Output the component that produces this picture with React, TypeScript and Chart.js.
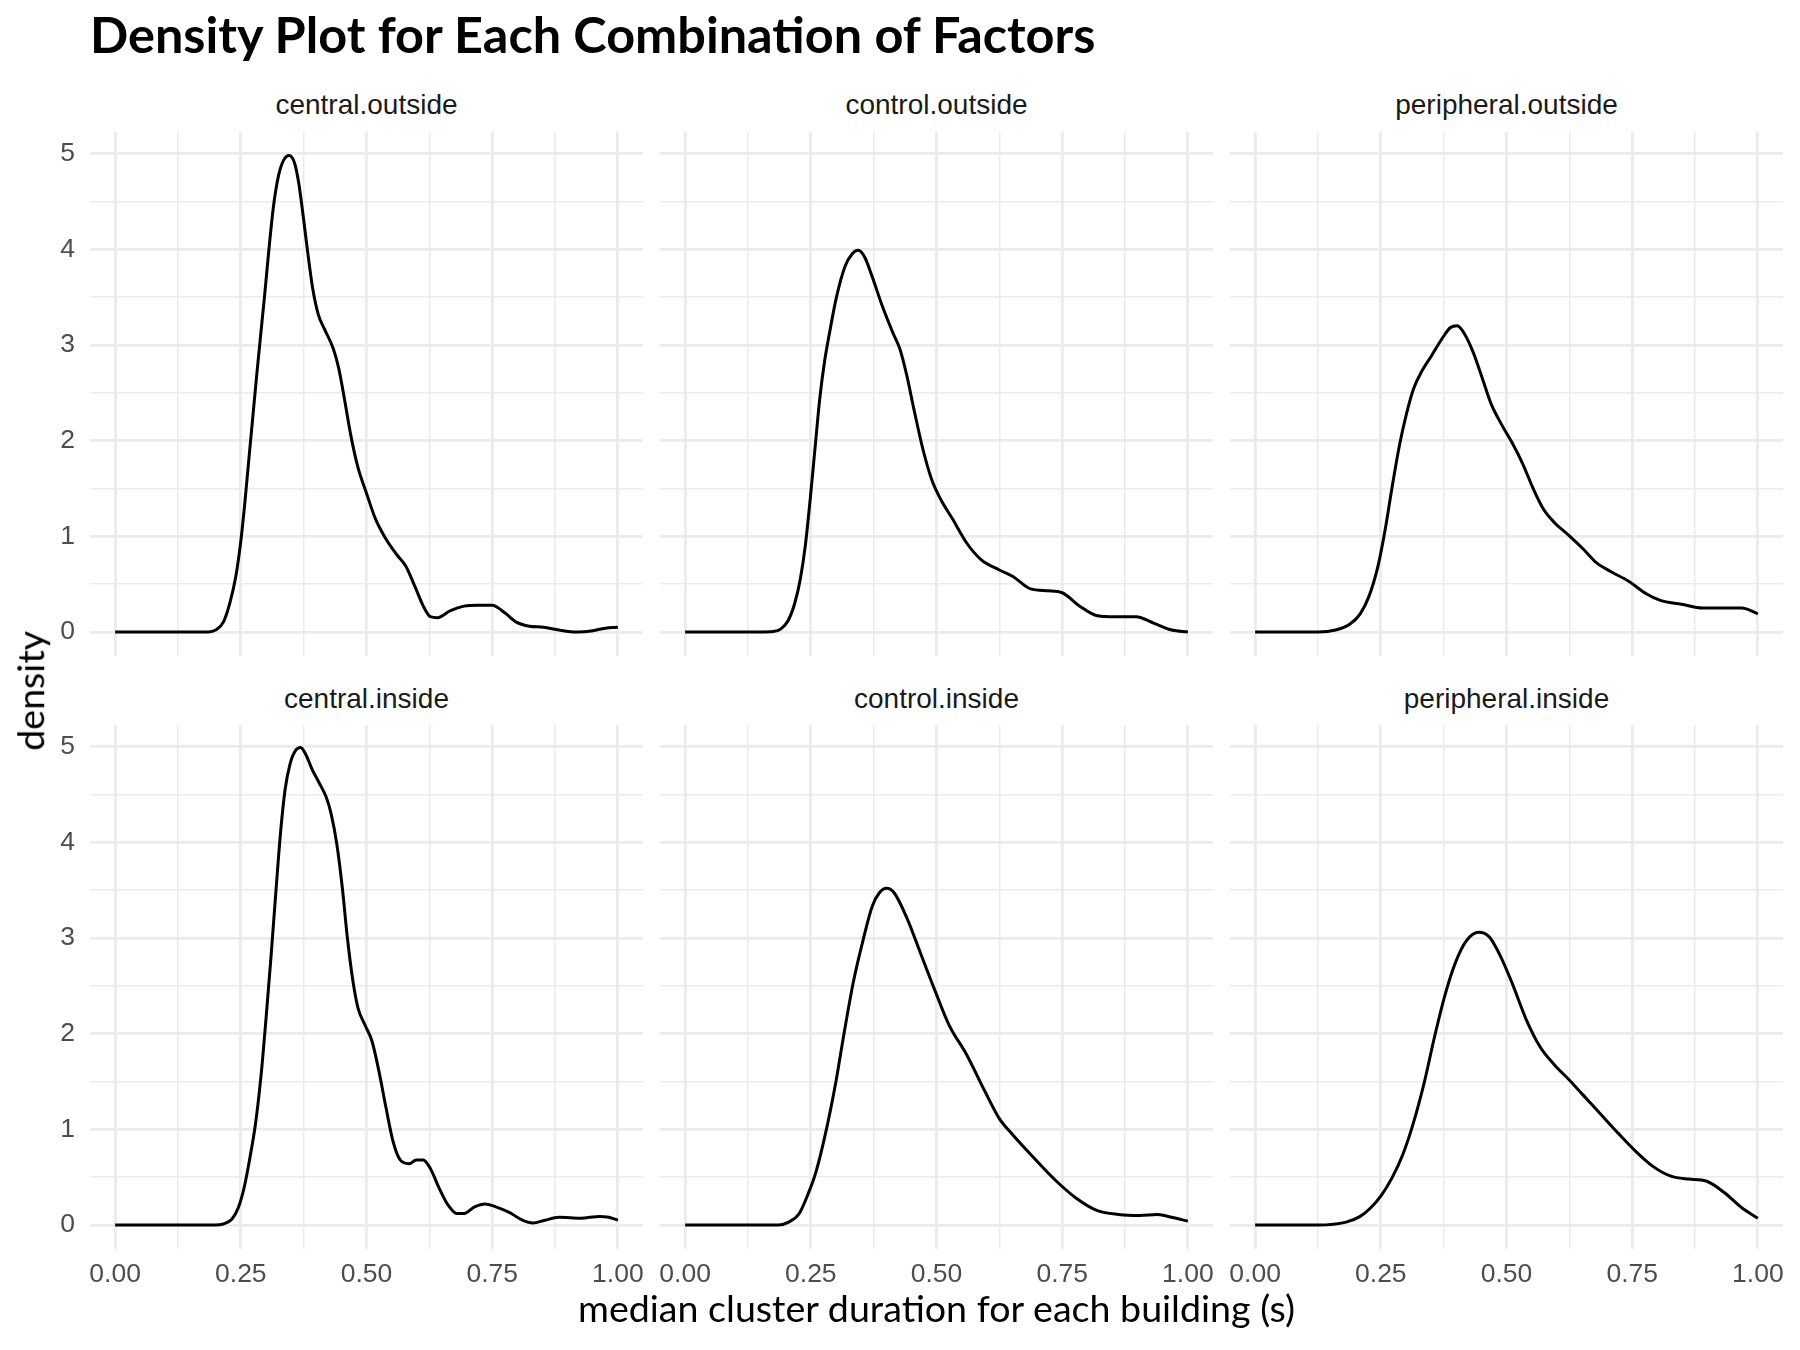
import React, { useEffect, useRef } from "react";
import { Chart, registerables } from "chart.js";

Chart.register(...registerables);

// ---------------- data ----------------
const panelNames = [
  "central.outside",
  "control.outside",
  "peripheral.outside",
  "central.inside",
  "control.inside",
  "peripheral.inside",
];

const xTickValues = [0, 0.125, 0.25, 0.375, 0.5, 0.625, 0.75, 0.875, 1];
const xTickLabels = ["0.00", "", "0.25", "", "0.50", "", "0.75", "", "1.00"];
const yTickValues = [0, 0.5, 1, 1.5, 2, 2.5, 3, 3.5, 4, 4.5, 5];
const yTickLabels = ["0", "", "1", "", "2", "", "3", "", "4", "", "5"];

const centralOutsideX = [0, 0.1, 0.185, 0.2, 0.215, 0.228, 0.24, 0.25, 0.258, 0.265, 0.273, 0.281, 0.289, 0.297, 0.305, 0.315, 0.325, 0.335, 0.346, 0.357, 0.365, 0.374, 0.383, 0.393, 0.404, 0.416, 0.434, 0.445, 0.455, 0.469, 0.483, 0.5, 0.518, 0.539, 0.56, 0.578, 0.596, 0.613, 0.627, 0.641, 0.666, 0.694, 0.722, 0.75, 0.775, 0.799, 0.824, 0.852, 0.883, 0.919, 0.947, 0.975, 1.0];
const centralOutsideY = [0, 0, 0, 0.02, 0.1, 0.3, 0.58, 0.95, 1.35, 1.75, 2.2, 2.65, 3.08, 3.5, 3.95, 4.45, 4.77, 4.93, 4.98, 4.9, 4.7, 4.35, 3.97, 3.59, 3.32, 3.17, 2.96, 2.75, 2.47, 2.05, 1.72, 1.45, 1.18, 0.97, 0.81, 0.69, 0.48, 0.27, 0.16, 0.15, 0.22, 0.27, 0.28, 0.28, 0.2, 0.1, 0.06, 0.05, 0.02, 0.0, 0.01, 0.04, 0.05];

const controlOutsideX = [0, 0.15, 0.175, 0.19, 0.205, 0.218, 0.229, 0.239, 0.249, 0.258, 0.268, 0.278, 0.287, 0.301, 0.318, 0.332, 0.344, 0.357, 0.371, 0.392, 0.413, 0.427, 0.441, 0.455, 0.473, 0.49, 0.508, 0.532, 0.56, 0.588, 0.624, 0.652, 0.687, 0.722, 0.75, 0.785, 0.82, 0.855, 0.897, 0.933, 0.968, 1.0];
const controlOutsideY = [0, 0, 0.005, 0.03, 0.12, 0.3, 0.55, 0.9, 1.4, 1.9, 2.45, 2.85, 3.12, 3.5, 3.82, 3.95, 3.99, 3.92, 3.73, 3.41, 3.13, 2.96, 2.68, 2.33, 1.91, 1.6, 1.39, 1.18, 0.93, 0.76, 0.65, 0.58, 0.45, 0.43, 0.41, 0.27, 0.17, 0.16, 0.16, 0.09, 0.02, 0.0];

const peripheralOutsideX = [0, 0.125, 0.16, 0.188, 0.209, 0.227, 0.244, 0.258, 0.272, 0.287, 0.301, 0.315, 0.332, 0.35, 0.371, 0.388, 0.402, 0.416, 0.434, 0.452, 0.469, 0.49, 0.511, 0.532, 0.553, 0.574, 0.596, 0.624, 0.652, 0.68, 0.708, 0.743, 0.778, 0.806, 0.848, 0.89, 0.933, 0.968, 1.0];
const peripheralOutsideY = [0, 0, 0.02, 0.08, 0.19, 0.38, 0.68, 1.05, 1.5, 1.95, 2.28, 2.54, 2.73, 2.88, 3.06, 3.18, 3.2, 3.12, 2.92, 2.65, 2.39, 2.17, 1.98, 1.76, 1.5, 1.28, 1.14, 1.01, 0.87, 0.72, 0.63, 0.53, 0.4, 0.33, 0.29, 0.25, 0.25, 0.25, 0.19];

const centralInsideX = [0, 0.15, 0.2, 0.215, 0.232, 0.245, 0.257, 0.268, 0.279, 0.29, 0.3, 0.31, 0.32, 0.329, 0.338, 0.348, 0.359, 0.369, 0.379, 0.392, 0.406, 0.42, 0.43, 0.441, 0.452, 0.462, 0.473, 0.483, 0.497, 0.511, 0.525, 0.539, 0.553, 0.567, 0.585, 0.599, 0.613, 0.627, 0.645, 0.662, 0.68, 0.694, 0.715, 0.736, 0.757, 0.785, 0.81, 0.831, 0.855, 0.883, 0.926, 0.964, 0.982, 1.0];
const centralInsideY = [0, 0, 0, 0.01, 0.06, 0.18, 0.4, 0.7, 1.05, 1.55, 2.15, 2.8, 3.5, 4.1, 4.55, 4.82, 4.96, 4.99, 4.92, 4.76, 4.62, 4.47, 4.29, 3.98, 3.52, 3.0, 2.55, 2.27, 2.09, 1.92, 1.6, 1.22, 0.87, 0.68, 0.64, 0.68, 0.68, 0.59, 0.38, 0.21, 0.12, 0.12, 0.19, 0.22, 0.19, 0.13, 0.05, 0.02, 0.05, 0.08, 0.07, 0.09, 0.08, 0.05];

const controlInsideX = [0, 0.15, 0.185, 0.206, 0.227, 0.245, 0.26, 0.281, 0.3, 0.316, 0.335, 0.355, 0.372, 0.386, 0.401, 0.416, 0.441, 0.469, 0.497, 0.525, 0.56, 0.596, 0.624, 0.652, 0.694, 0.736, 0.778, 0.82, 0.862, 0.904, 0.94, 0.968, 1.0];
const controlInsideY = [0, 0, 0.0, 0.03, 0.12, 0.33, 0.55, 1.0, 1.5, 2.0, 2.55, 3.0, 3.33, 3.47, 3.52, 3.47, 3.21, 2.83, 2.45, 2.09, 1.78, 1.4, 1.12, 0.94, 0.7, 0.47, 0.28, 0.15, 0.11, 0.1, 0.11, 0.08, 0.04];

const peripheralInsideX = [0, 0.125, 0.181, 0.209, 0.23, 0.251, 0.272, 0.294, 0.315, 0.336, 0.357, 0.378, 0.399, 0.42, 0.445, 0.466, 0.487, 0.511, 0.539, 0.567, 0.596, 0.624, 0.652, 0.687, 0.722, 0.757, 0.792, 0.827, 0.862, 0.897, 0.933, 0.968, 1.0];
const peripheralInsideY = [0, 0, 0.03, 0.09, 0.18, 0.31, 0.49, 0.74, 1.07, 1.48, 1.97, 2.41, 2.75, 2.97, 3.06, 3.01, 2.82, 2.53, 2.15, 1.86, 1.67, 1.52, 1.36, 1.16, 0.96, 0.77, 0.61, 0.51, 0.48, 0.46, 0.34, 0.18, 0.07];

const panelXs = [centralOutsideX, controlOutsideX, peripheralOutsideX, centralInsideX, controlInsideX, peripheralInsideX];
const panelYs = [centralOutsideY, controlOutsideY, peripheralOutsideY, centralInsideY, controlInsideY, peripheralInsideY];

const titleText = "Density Plot for Each Combination of Factors";
const xTitleText = "median cluster duration for each building (s)";
const yTitleText = "density";

// ---------------- layout ----------------
const PANEL_LEFT = [90, 660, 1230];
const PANEL_TOP = [132, 725];
const PANEL_W = 553;
const PANEL_H = 524;
const PAD = 40;
const Y_AXIS_W = 70;
const X_AXIS_H = 60;
const X_MIN = -0.05;
const X_MAX = 1.05;
const Y_MIN = -0.251;
const Y_MAX = 5.226;

const GRID = "#EBEBEB";
const TICK_FONT = "'Liberation Sans', Arial, sans-serif";
const LATO = "Lato, 'Noto Sans', sans-serif";
const TITLE_SIZE = 50.4;
const AXIS_TITLE_SIZE = 37.6;
const STRIP_SIZE = 28;

function Panel({ idx }: { idx: number }) {
  const ref = useRef<HTMLCanvasElement | null>(null);
  const col = idx % 3;
  const row = Math.floor(idx / 3);
  const yW = col === 0 ? Y_AXIS_W : 0;
  const xH = row === 1 ? X_AXIS_H : 0;
  const cw = PAD + yW + PANEL_W + PAD;
  const ch = PAD + PANEL_H + xH + PAD;
  const left = PANEL_LEFT[col] - PAD - yW;
  const top = PANEL_TOP[row] - PAD;

  useEffect(() => {
    const canvas = ref.current;
    if (!canvas) return;
    const xs = panelXs[idx];
    const ys = panelYs[idx];
    const chart = new Chart(canvas, {
      type: "line",
      data: {
        datasets: [
          {
            data: xs.map((x, i) => ({ x, y: ys[i] })),
            borderColor: "#000000",
            borderWidth: 3,
            pointRadius: 0,
            fill: false,
            cubicInterpolationMode: "monotone",
          },
        ],
      },
      options: {
        animation: false,
        responsive: false,
        events: [],
        layout: { padding: { left: PAD, right: PAD, top: PAD, bottom: PAD }, autoPadding: false },
        plugins: {
          legend: { display: false },
          tooltip: { enabled: false },
          title: { display: false },
        },
        scales: {
          x: {
            type: "linear",
            min: X_MIN,
            max: X_MAX,
            afterBuildTicks: (s: any) => {
              s.ticks = xTickValues.map((v) => ({ value: v }));
            },
            afterFit: (s: any) => {
              s.height = xH;
            },
            border: { display: false },
            grid: {
              drawTicks: false,
              color: GRID,
              lineWidth: (c: any) => (xTickLabels[xTickValues.indexOf(c.tick?.value)] ? 2.8 : 1.5),
            },
            ticks: {
              display: row === 1,
              autoSkip: false,
              maxRotation: 0,
              minRotation: 0,
              padding: 10,
              color: "#4D4D4D",
              font: { family: TICK_FONT, size: 26.5 },
              callback: (v: any) => {
                const i = xTickValues.indexOf(Number(v));
                return i >= 0 ? xTickLabels[i] : "";
              },
            },
          },
          y: {
            type: "linear",
            min: Y_MIN,
            max: Y_MAX,
            afterBuildTicks: (s: any) => {
              s.ticks = yTickValues.map((v) => ({ value: v }));
            },
            afterFit: (s: any) => {
              s.width = yW;
            },
            border: { display: false },
            grid: {
              drawTicks: false,
              color: GRID,
              lineWidth: (c: any) => (yTickLabels[yTickValues.indexOf(c.tick?.value)] ? 2.8 : 1.5),
            },
            ticks: {
              display: col === 0,
              autoSkip: false,
              padding: 15,
              color: "#4D4D4D",
              font: { family: TICK_FONT, size: 26.5 },
              callback: (v: any) => {
                const i = yTickValues.indexOf(Number(v));
                return i >= 0 ? yTickLabels[i] : "";
              },
            },
          },
        },
      } as any,
    });
    return () => chart.destroy();
  }, [idx]);

  return (
    <canvas
      ref={ref}
      width={cw}
      height={ch}
      style={{ position: "absolute", left, top, width: cw, height: ch }}
    />
  );
}

export default function App() {
  return (
    <div
      style={{
        position: "absolute",
        left: 0,
        top: 0,
        width: 1800,
        height: 1350,
        background: "#FFFFFF",
        overflow: "hidden",
      }}
    >
      <div
        style={{
          position: "absolute",
          left: 90,
          top: 54 - 0.887 * TITLE_SIZE,
          fontFamily: LATO,
          fontWeight: 700,
          fontSize: TITLE_SIZE,
          lineHeight: TITLE_SIZE + "px",
          color: "#000",
          whiteSpace: "nowrap",
        }}
      >
        {titleText}
      </div>
      {panelNames.map((name, i) => {
        const col = i % 3;
        const row = Math.floor(i / 3);
        return (
          <div
            key={"strip" + i}
            style={{
              position: "absolute",
              left: PANEL_LEFT[col],
              width: PANEL_W,
              top: (row === 0 ? 115 : 708.5) - 0.8465 * STRIP_SIZE,
              textAlign: "center",
              fontFamily: TICK_FONT,
              fontSize: STRIP_SIZE,
              lineHeight: STRIP_SIZE + "px",
              color: "#1A1A1A",
              whiteSpace: "nowrap",
            }}
          >
            {name}
          </div>
        );
      })}
      {panelNames.map((_, i) => (
        <Panel key={"panel" + i} idx={i} />
      ))}
      <div
        style={{
          position: "absolute",
          left: PANEL_LEFT[0],
          width: PANEL_LEFT[2] + PANEL_W - PANEL_LEFT[0],
          top: 1322 - 0.887 * AXIS_TITLE_SIZE,
          textAlign: "center",
          fontFamily: LATO,
          fontSize: AXIS_TITLE_SIZE,
          lineHeight: AXIS_TITLE_SIZE + "px",
          color: "#000",
          whiteSpace: "nowrap",
        }}
      >
        {xTitleText}
      </div>
      <div
        style={{
          position: "absolute",
          left: 30 - 300,
          width: 600,
          top: 690.5 - AXIS_TITLE_SIZE / 2,
          height: AXIS_TITLE_SIZE,
          textAlign: "center",
          fontFamily: LATO,
          fontSize: AXIS_TITLE_SIZE,
          lineHeight: AXIS_TITLE_SIZE + "px",
          color: "#000",
          whiteSpace: "nowrap",
          transform: "rotate(-90deg)",
          transformOrigin: "50% 50%",
        }}
      >
        {yTitleText}
      </div>
    </div>
  );
}
